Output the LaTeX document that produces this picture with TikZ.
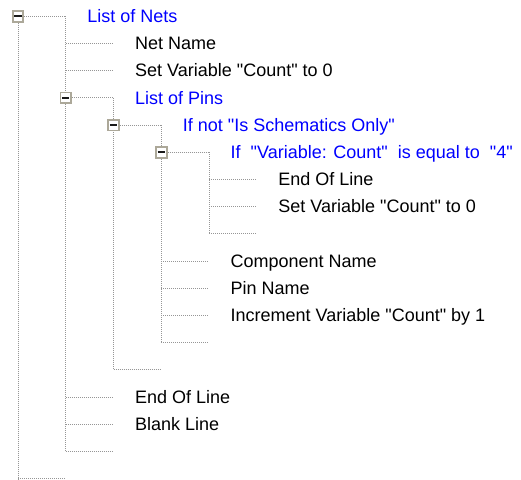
\documentclass[tikz,border=0pt]{standalone}
\usepackage{fontspec}
\setmainfont{Liberation Sans}[Ligatures=TeXOff]
\usetikzlibrary{backgrounds}
\definecolor{treeline}{RGB}{150,150,150}
\definecolor{boxedge}{RGB}{172,168,153}
\definecolor{itemblue}{RGB}{0,0,255}
\tikzset{
  treeline/.style={draw=treeline, line width=1pt, dash pattern=on 1pt off 1pt},
  expbox/.style={draw=boxedge, line width=1.8pt, fill=white, minimum size=10.7pt, inner sep=0pt,
    path picture={\draw[line width=2.2pt, black!90] ([xshift=-3.6pt]path picture bounding box.center) -- ([xshift=3.6pt]path picture bounding box.center);}},
  itemtext/.style={anchor=base west, inner sep=0pt, font=\fontsize{18}{20}\selectfont},
  grouptext/.style={itemtext, text=itemblue},
}
\begin{document}
\begin{tikzpicture}[x=1pt,y=-1pt]
\useasboundingbox (0,0) rectangle (521,479);
% level x positions
\def\xa{18}\def\xb{65.75}\def\xc{113.5}\def\xd{161.25}\def\xe{209}\def\xf{256.75}
\def\rowy#1{16.3+27.2*#1}
% boxes
\node[expbox] (b0) at (\xa,{\rowy{0}}) {};
\node[expbox] (b3) at (\xb,{\rowy{3}}) {};
\node[expbox] (b4) at (\xc,{\rowy{4}}) {};
\node[expbox] (b5) at (\xd,{\rowy{5}}) {};
% coordinates: line starts (v) and ends (h)
\coordinate (h0) at (\xb,{\rowy{0}});
\coordinate (v1) at (\xb,{\rowy{1}});  \coordinate (h1) at (\xc,{\rowy{1}});
\coordinate (v2) at (\xb,{\rowy{2}});  \coordinate (h2) at (\xc,{\rowy{2}});
\coordinate (h3) at (\xc,{\rowy{3}});
\coordinate (h4) at (\xd,{\rowy{4}});
\coordinate (h5) at (\xe,{\rowy{5}});
\coordinate (v6) at (\xe,{\rowy{6}});  \coordinate (h6) at (\xf,{\rowy{6}});
\coordinate (v7) at (\xe,{\rowy{7}});  \coordinate (h7) at (\xf,{\rowy{7}});
\coordinate (v8) at (\xe,{\rowy{8}});  \coordinate (h8) at (\xf,{\rowy{8}});
\coordinate (v9) at (\xd,{\rowy{9}});  \coordinate (h9) at (\xe,{\rowy{9}});
\coordinate (v10) at (\xd,{\rowy{10}}); \coordinate (h10) at (\xe,{\rowy{10}});
\coordinate (v11) at (\xd,{\rowy{11}}); \coordinate (h11) at (\xe,{\rowy{11}});
\coordinate (v12) at (\xd,{\rowy{12}}); \coordinate (h12) at (\xe,{\rowy{12}});
\coordinate (v13) at (\xc,{\rowy{13}}); \coordinate (h13) at (\xd,{\rowy{13}});
\coordinate (v14) at (\xb,{\rowy{14}}); \coordinate (h14) at (\xc,{\rowy{14}});
\coordinate (v15) at (\xb,{\rowy{15}}); \coordinate (h15) at (\xc,{\rowy{15}});
\coordinate (v16) at (\xb,{\rowy{16}}); \coordinate (h16) at (\xc,{\rowy{16}});
\coordinate (v17) at (\xa,{\rowy{17}}); \coordinate (h17) at (\xb,{\rowy{17}});
% texts
\node[grouptext] (t0) at ([xshift=21.5pt,yshift=-6.2pt]h0) {List of Nets};
\node[itemtext] (t1) at ([xshift=21.5pt,yshift=-6.2pt]h1) {Net Name};
\node[itemtext] (t2) at ([xshift=21.5pt,yshift=-6.2pt]h2) {Set Variable "Count" to 0};
\node[grouptext] (t3) at ([xshift=21.5pt,yshift=-6.2pt]h3) {List of Pins};
\node[grouptext] (t4) at ([xshift=21.5pt,yshift=-6.2pt]h4) {If not "Is Schematics Only"};
\node[grouptext] (t5) at ([xshift=21.5pt,yshift=-6.2pt]h5) {If\ \ "Variable: Count"\ \ is equal to\ \ "4"};
\node[itemtext] (t6) at ([xshift=21.5pt,yshift=-6.2pt]h6) {End Of Line};
\node[itemtext] (t7) at ([xshift=21.5pt,yshift=-6.2pt]h7) {Set Variable "Count" to 0};
\node[itemtext] (t9) at ([xshift=21.5pt,yshift=-6.2pt]h9) {Component Name};
\node[itemtext] (t10) at ([xshift=21.5pt,yshift=-6.2pt]h10) {Pin Name};
\node[itemtext] (t11) at ([xshift=21.5pt,yshift=-6.2pt]h11) {Increment Variable "Count" by 1};
\node[itemtext] (t14) at ([xshift=21.5pt,yshift=-6.2pt]h14) {End Of Line};
\node[itemtext] (t15) at ([xshift=21.5pt,yshift=-6.2pt]h15) {Blank Line};
% connectors
\begin{scope}[on background layer]
  % verticals
  \draw[treeline] (b0) -- (v17);
  \draw[treeline] (h0) -- (v16);
  \draw[treeline] (h3) -- (v13);
  \draw[treeline] (h4) -- (v12);
  \draw[treeline] (h5) -- (v8);
  % horizontals
  \draw[treeline] (b0) -- (h0);
  \draw[treeline] (v1) -- (h1);
  \draw[treeline] (v2) -- (h2);
  \draw[treeline] (b3) -- (h3);
  \draw[treeline] (b4) -- (h4);
  \draw[treeline] (b5) -- (h5);
  \draw[treeline] (v6) -- (h6);
  \draw[treeline] (v7) -- (h7);
  \draw[treeline] (v8) -- (h8);
  \draw[treeline] (v9) -- (h9);
  \draw[treeline] (v10) -- (h10);
  \draw[treeline] (v11) -- (h11);
  \draw[treeline] (v12) -- (h12);
  \draw[treeline] (v13) -- (h13);
  \draw[treeline] (v14) -- (h14);
  \draw[treeline] (v15) -- (h15);
  \draw[treeline] (v16) -- (h16);
  \draw[treeline] (v17) -- (h17);
\end{scope}
\end{tikzpicture}
\end{document}
